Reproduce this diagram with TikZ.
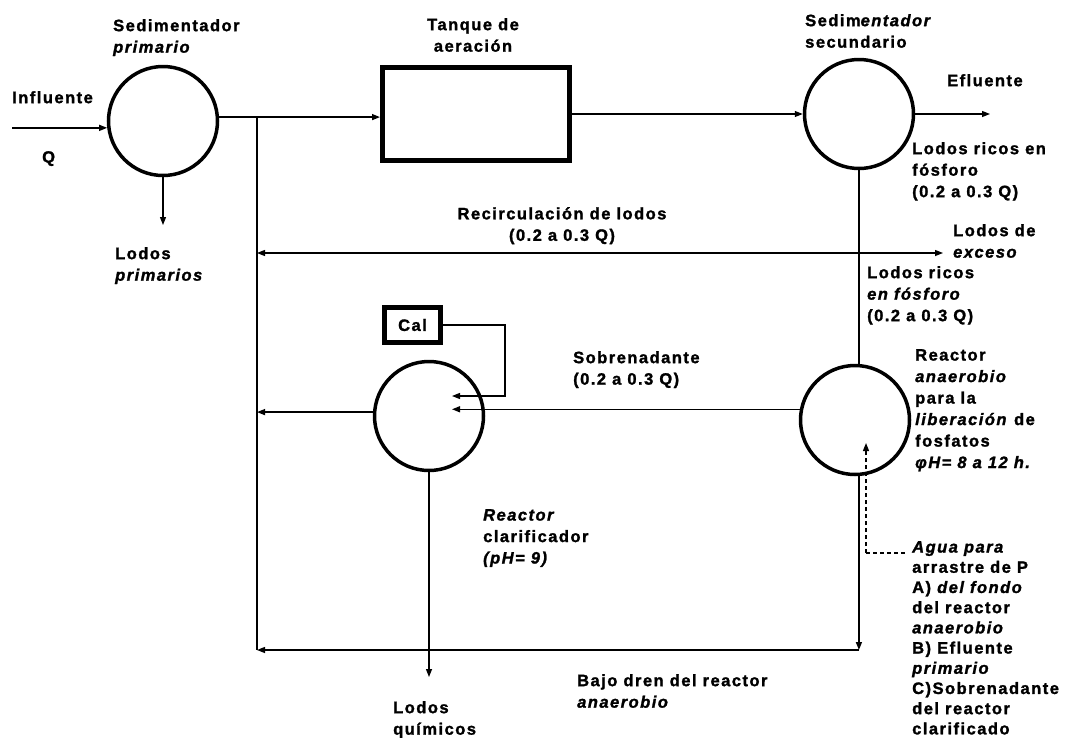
\documentclass[tikz,border=0pt]{standalone}
\usepackage{fontspec}
\setmainfont{Liberation Sans}[LetterSpace=9, BoldFeatures={FakeBold=1.5}, BoldItalicFeatures={FakeBold=1.5}]
\usetikzlibrary{arrows.meta}
\begin{document}
\begin{tikzpicture}[x=1pt,y=-1pt,
  font=\fontsize{16.5}{21.5}\selectfont\bfseries,
  lbl/.style={anchor=north west, inner sep=0pt, align=left},
  clbl/.style={anchor=north, inner sep=0pt, align=center},
  vessel/.style={circle, draw, line width=3.5pt, minimum size=109pt, inner sep=0pt},
  box/.style={rectangle, draw, line width=5pt, inner sep=0pt},
  flow/.style={line width=1.3pt, -{Triangle[length=8pt,width=6pt]}},
  pipe/.style={line width=1.3pt},
  ]
\useasboundingbox (0,0) rectangle (1076,737);
% vessels
\node[vessel] (prim) at (163,121) {};
\node[box, minimum width=187pt, minimum height=93pt] (aer) at (476,114) {};
\node[vessel] (sec) at (859,114) {};
\node[vessel] (anae) at (855,420) {};
\node[vessel] (clar) at (429,416) {};
\node[box, minimum width=56pt, minimum height=35pt] (cal) at (412.5,325) {Cal};
% helper coordinates
\coordinate (inS) at (12,128);
\coordinate (jx) at (257,0);
\coordinate (effE) at (990,0);
\coordinate (j2) at (859,253);
\coordinate (recL) at (257,253);
\coordinate (recR) at (943,253);
\coordinate (calK) at (505,396);
\coordinate (calTip) at (452,396);
\coordinate (sobTip) at (452,0);
\coordinate (clarL) at (257,0);
\coordinate (clarB) at (0,677);
\coordinate (primB) at (0,225);
\coordinate (botR) at (859,650);
\coordinate (botL) at (257,650);
\coordinate (dashC) at (866,553);
\coordinate (dashTip) at (866,443);
\coordinate (dashE) at (905,553);
% connectors
\draw[flow] (inS |- prim.187) -- (prim.187);
\draw[flow] (prim.4) -- (prim.4 -| aer.west);
\draw[pipe] (jx |- prim.4) -- (botL);
\draw[flow] (aer.east) -- (aer.east -| sec.west);
\draw[flow] (sec.east) -- (effE |- sec.east);
\draw[pipe] (sec.south) -- (sec.south |- anae.north);
\draw[flow] (j2) -- (recL);
\draw[flow] (j2) -- (recR);
\draw[flow] (anae.169) -- (sobTip |- anae.169);
\draw[flow] (cal.east) -| (calK) -- (calTip);
\draw[flow] (clar.176) -- (clarL |- clar.176);
\draw[flow] (clar.south) -- (clar.south |- clarB);
\draw[flow] (prim.south) -- (prim.south |- primB);
\draw[flow] (anae.-86) -- (anae.-86 |- botR);
\draw[flow] (botR) -- (botL);
\draw[flow, dash pattern=on 4pt off 3pt] (dashC) -- (dashTip);
\draw[pipe, dash pattern=on 4pt off 3pt] (dashC) -- (dashE);
% labels
\node[lbl] (lSP) at (113,19) {Sedimentador\\\textit{primario}};
\node[lbl] (lInf) at (12,91) {Influente};
\node[lbl] (lQ) at (42,151) {Q};
\node[lbl] (lLP) at (115,247) {Lodos\\\textit{primarios}};
\node[clbl] (lTA) at (473,18) {Tanque de\\aeración};
\node[lbl] (lSS) at (805,14) {Sedim\textit{entador}\\secundario};
\node[lbl] (lEf) at (947,74) {Efluente};
\node[lbl] (lLR1) at (912,142) {Lodos ricos en\\fósforo\\(0.2 a 0.3 Q)};
\node[clbl] (lRec) at (562,207) {Recirculación de lodos\\(0.2 a 0.3 Q)};
\node[lbl] (lLE) at (953,224) {Lodos de\\\textit{exceso}};
\node[lbl] (lLR2) at (867,266) {Lodos ricos\\\textit{en fósforo}\\(0.2 a 0.3 Q)};
\node[lbl] (lSob) at (573,351) {Sobrenadante\\(0.2 a 0.3 Q)};
\node[lbl] (lRA) at (915,349) {Reactor\\\textit{anaerobio}\\para la\\\textit{liberación} de\\fosfatos\\\textit{φH= 8 a 12 h.}};
\node[lbl] (lRC) at (483,509) {\textit{Reactor}\\clarificador\\\textit{(pH= 9)}};
\node[lbl] (lLQ) at (393,701) {Lodos\\químicos};
\node[lbl] (lBD) at (577,674) {Bajo dren del reactor\\\textit{anaerobio}};
\node[lbl, font=\fontsize{16.5}{20.2}\selectfont\bfseries] (lAg) at (912,541) {\textit{Agua para}\\arrastre de P\\A) \textit{del fondo}\\del reactor\\\textit{anaerobio}\\B) Efluente\\\textit{primario}\\C)Sobrenadante\\del reactor\\clarificado};
\end{tikzpicture}
\end{document}
